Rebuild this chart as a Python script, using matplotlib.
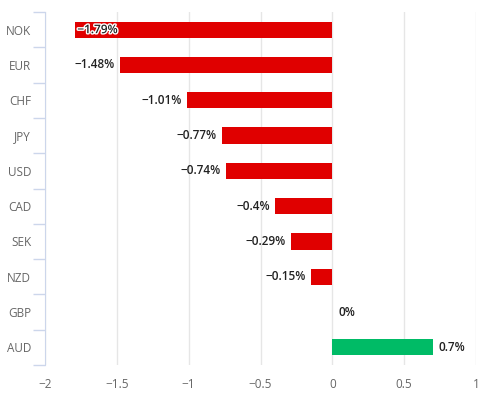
import matplotlib
matplotlib.use("Agg")
import matplotlib.pyplot as plt
import matplotlib.patheffects as pe

currencies = ["NOK", "EUR", "CHF", "JPY", "USD", "CAD", "SEK", "NZD", "GBP", "AUD"]
changes = [-1.79, -1.48, -1.01, -0.77, -0.74, -0.4, -0.29, -0.15, 0.0, 0.7]
labels = ["\u22121.79%", "\u22121.48%", "\u22121.01%", "\u22120.77%", "\u22120.74%",
          "\u22120.4%", "\u22120.29%", "\u22120.15%", "0%", "0.7%"]
xticks = [-2, -1.5, -1, -0.5, 0, 0.5, 1]
xticklabels = ["\u22122", "\u22121.5", "\u22121", "\u22120.5", "0", "0.5", "1"]

plt.rcParams["font.family"] = ["Open Sans", "DejaVu Sans"]

W, H = 493, 395
fig = plt.figure(figsize=(W / 100, H / 100), dpi=100)
ax = fig.add_axes([45 / W, 1 - 365 / H, (476 - 45) / W, (365 - 12) / H])

ypos = list(range(len(currencies)))
colors = ["#e00000" if v < 0 else "#00bb66" for v in changes]
ax.barh(ypos, changes, height=0.46, color=colors, zorder=3)

ax.set_xlim(-2, 1)
ax.set_ylim(len(currencies) - 0.5, -0.5)
ax.set_xticks(xticks)
ax.set_xticklabels(xticklabels)
ax.xaxis.grid(True, color="#e6e6e6", linewidth=1, zorder=0)
ax.tick_params(axis="x", length=0, labelsize=8.5, labelcolor="#666666", pad=9)

ax.set_yticks([y - 0.5 for y in range(len(currencies) + 1)], minor=False)
ax.set_yticklabels([])
ax.set_yticks(ypos, minor=True)
ax.set_yticklabels(currencies, minor=True)
ax.tick_params(axis="y", which="major", length=9, color="#ccd6eb", width=1)
ax.tick_params(axis="y", which="minor", length=0, labelsize=8.5, labelcolor="#666666", pad=10)

for s in ["top", "right", "bottom"]:
    ax.spines[s].set_visible(False)
ax.spines["left"].set_color("#ccd6eb")

for y, v, t in zip(ypos, changes, labels):
    if v == changes[0]:
        ax.text(v + 0.015, y, t, ha="left", va="center", fontsize=8.5, color="#222222",
                fontweight="semibold", zorder=4,
                path_effects=[pe.withStroke(linewidth=2, foreground="white")])
    elif v < 0:
        ax.text(v - 0.035, y, t, ha="right", va="center", fontsize=8.5, color="#222222",
                fontweight="semibold", zorder=4)
    else:
        ax.text(v + 0.04, y, t, ha="left", va="center", fontsize=8.5, color="#222222",
                fontweight="semibold", zorder=4)

fig.savefig("out.png", dpi=100)
